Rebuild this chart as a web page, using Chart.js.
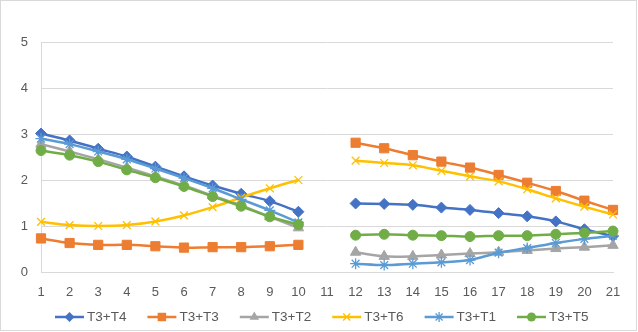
<!DOCTYPE html>
<html>
<head>
<meta charset="utf-8">
<script src="https://cdn.jsdelivr.net/npm/chart.js@4.4.1/dist/chart.umd.min.js"></script>
<style>
html,body{margin:0;padding:0;background:#fff;}
#c{display:block;}
</style>
</head>
<body>
<canvas id="c" width="638" height="332"></canvas>
<script>
const categories = ['1','2','3','4','5','6','7','8','9','10','11','12','13','14','15','16','17','18','19','20','21'];
const seriesNames = ['T3+T4','T3+T3','T3+T2','T3+T6','T3+T1','T3+T5'];
const t3t4 = [3.01, 2.86, 2.68, 2.51, 2.29, 2.08, 1.88, 1.70, 1.54, 1.31, null, 1.49, 1.48, 1.46, 1.40, 1.35, 1.28, 1.21, 1.10, 0.93, 0.78];
const t3t3 = [0.73, 0.63, 0.59, 0.59, 0.56, 0.53, 0.54, 0.54, 0.56, 0.59, null, 2.81, 2.69, 2.54, 2.40, 2.27, 2.11, 1.94, 1.76, 1.55, 1.35];
const t3t2 = [2.78, 2.62, 2.45, 2.27, 2.08, 1.88, 1.66, 1.45, 1.20, 0.96, null, 0.43, 0.34, 0.34, 0.37, 0.40, 0.43, 0.47, 0.51, 0.54, 0.58];
const t3t6 = [1.09, 1.02, 1.00, 1.02, 1.10, 1.23, 1.41, 1.62, 1.82, 2.00, null, 2.42, 2.37, 2.32, 2.20, 2.08, 1.97, 1.80, 1.60, 1.42, 1.25];
const t3t1 = [2.90, 2.78, 2.62, 2.45, 2.25, 2.04, 1.82, 1.58, 1.34, 1.08, null, 0.18, 0.15, 0.18, 0.21, 0.26, 0.42, 0.52, 0.63, 0.72, 0.79];
const t3t5 = [2.64, 2.54, 2.40, 2.22, 2.05, 1.86, 1.64, 1.43, 1.20, 1.03, null, 0.80, 0.82, 0.80, 0.79, 0.77, 0.79, 0.79, 0.82, 0.85, 0.89];
const yTicks = [0, 1, 2, 3, 4, 5];

const colors = ['#4472C4','#ED7D31','#A5A5A5','#FFC000','#5B9BD5','#70AD47'];
const styles = ['rectRot','rect','triangle','crossRot','star','circle'];
const radii = [5.5, 6.5, 6, 5.5, 5.5, 5];
const values = [t3t4, t3t3, t3t2, t3t6, t3t1, t3t5];

function drawMarker(ctx, style, x, y, r, color){
  ctx.save();
  ctx.fillStyle = color; ctx.strokeStyle = color; ctx.lineWidth = 1.3;
  ctx.beginPath();
  if (style === 'rectRot'){
    ctx.moveTo(x, y-r); ctx.lineTo(x+r, y); ctx.lineTo(x, y+r); ctx.lineTo(x-r, y); ctx.closePath(); ctx.fill();
  } else if (style === 'rect'){
    const s = r*Math.SQRT1_2; ctx.rect(x-s, y-s, 2*s, 2*s); ctx.fill();
  } else if (style === 'triangle'){
    const w = r*0.866*2;
    ctx.moveTo(x, y-r); ctx.lineTo(x+w/2, y+r*0.5); ctx.lineTo(x-w/2, y+r*0.5); ctx.closePath(); ctx.fill();
  } else if (style === 'crossRot'){
    const s = r*Math.SQRT1_2;
    ctx.moveTo(x-s,y-s); ctx.lineTo(x+s,y+s); ctx.moveTo(x+s,y-s); ctx.lineTo(x-s,y+s); ctx.stroke();
  } else if (style === 'star'){
    const s = r*Math.SQRT1_2;
    ctx.moveTo(x-s,y-s); ctx.lineTo(x+s,y+s); ctx.moveTo(x+s,y-s); ctx.lineTo(x-s,y+s);
    ctx.moveTo(x,y-r); ctx.lineTo(x,y+r); ctx.stroke();
  } else {
    ctx.arc(x, y, r, 0, Math.PI*2); ctx.fill();
  }
  ctx.restore();
}

const datasets = seriesNames.map((name, i) => ({
  label: name,
  data: values[i],
  borderColor: colors[i],
  backgroundColor: colors[i],
  borderWidth: 2.5,
  pointStyle: styles[i],
  pointRadius: radii[i],
  pointBorderWidth: (styles[i]==='crossRot'||styles[i]==='star') ? 1.3 : 1,
  pointBackgroundColor: colors[i],
  pointBorderColor: colors[i],
  tension: 0.3,
  spanGaps: false,
  order: 5 - i
}));

const borderPlugin = {
  id: 'outerBorder',
  afterDraw(chart){
    const ctx = chart.ctx;
    ctx.save();
    ctx.strokeStyle = '#D9D9D9'; ctx.lineWidth = 1;
    ctx.strokeRect(0.5, 0.5, 636, 330);
    ctx.restore();
  }
};

// Legend drawn in Excel style: line segment with marker, then text
const legendPlugin = {
  id: 'excelLegend',
  afterDraw(chart){
    const ctx = chart.ctx;
    const y = 317;
    ctx.save();
    ctx.font = '13.5px "Liberation Sans", Arial, sans-serif';
    ctx.fillStyle = '#595959';
    ctx.textBaseline = 'middle';
    ctx.textAlign = 'left';
    chart.data.datasets.forEach((d, i) => {
      const x0 = 55 + 92.4 * i;
      ctx.strokeStyle = colors[i]; ctx.lineWidth = 2.5;
      ctx.beginPath(); ctx.moveTo(x0, y); ctx.lineTo(x0 + 29, y); ctx.stroke();
      drawMarker(ctx, styles[i], x0 + 14.5, y, radii[i] - 0.5, colors[i]);
      ctx.fillStyle = '#595959';
      ctx.fillText(d.label, x0 + 32, y + 0.5);
    });
    ctx.restore();
  }
};

Chart.defaults.font.family = '"Liberation Sans", Arial, sans-serif';
Chart.defaults.color = '#595959';

new Chart(document.getElementById('c'), {
  type: 'line',
  data: { labels: categories, datasets },
  plugins: [borderPlugin, legendPlugin],
  options: {
    responsive: false,
    animation: false,
    layout: { padding: { top: 42, right: 25, left: 0, bottom: 28 } },
    scales: {
      x: {
        offset: false,
        grid: { display: false, drawTicks: false },
        border: { display: true, color: '#D9D9D9', width: 1 },
        ticks: { font: { size: 13 }, color: '#595959', padding: 13, maxRotation: 0, autoSkip: false },
        afterFit(s){ s.height = 32; }
      },
      y: {
        min: 0, max: 5,
        afterBuildTicks(s){ s.ticks = yTicks.map(v => ({ value: v })); },
        grid: { color: '#D9D9D9', drawTicks: false },
        border: { display: true, color: '#D9D9D9', width: 1 },
        ticks: { font: { size: 13 }, color: '#595959', padding: 13 },
        afterFit(s){ s.width = 41; }
      }
    },
    plugins: {
      legend: { display: false },
      tooltip: { enabled: false }
    }
  }
});
</script>
</body>
</html>
